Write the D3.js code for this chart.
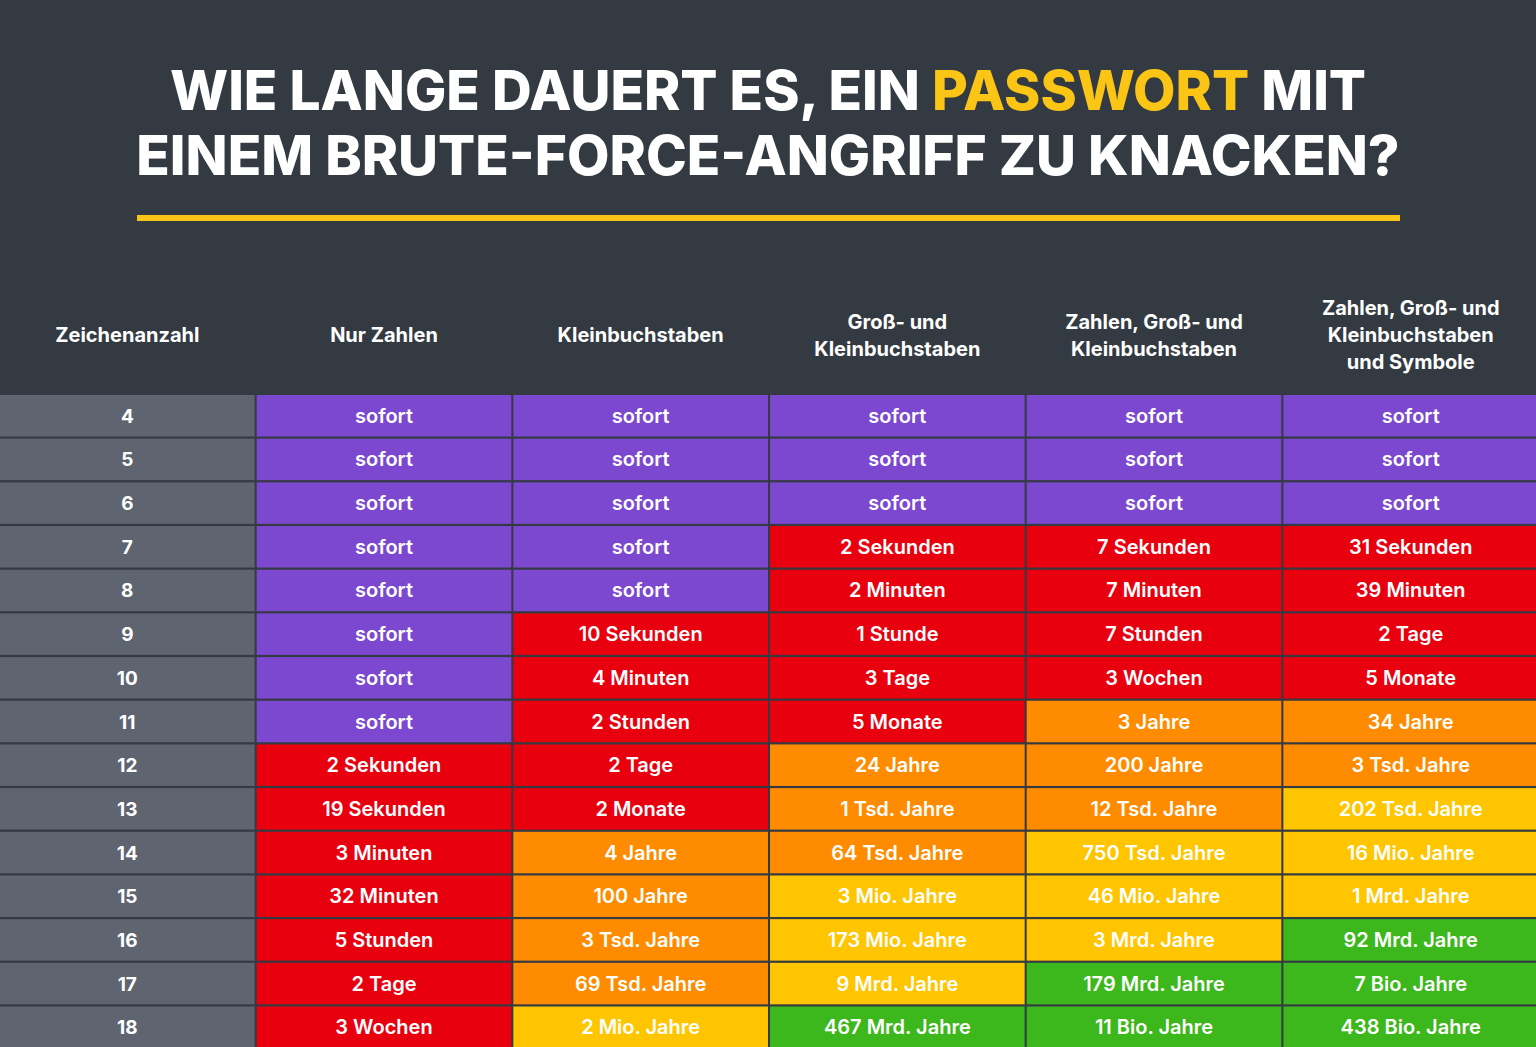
<!DOCTYPE html>
<html><head><meta charset="utf-8">
<script src="https://cdn.jsdelivr.net/npm/d3@7"></script>
<style>html,body{margin:0;padding:0;background:#343a42;overflow:hidden}</style>
</head><body><svg id="c" width="1536" height="1047"></svg>
<script>
const headers = [["Zeichenanzahl"],["Nur Zahlen"],["Kleinbuchstaben"],["Groß- und","Kleinbuchstaben"],["Zahlen, Groß- und","Kleinbuchstaben"],["Zahlen, Groß- und","Kleinbuchstaben","und Symbole"]];
const lengths = [4,5,6,7,8,9,10,11,12,13,14,15,16,17,18];
const nurZahlen = ["sofort","sofort","sofort","sofort","sofort","sofort","sofort","sofort","2 Sekunden","19 Sekunden","3 Minuten","32 Minuten","5 Stunden","2 Tage","3 Wochen"];
const klein = ["sofort","sofort","sofort","sofort","sofort","10 Sekunden","4 Minuten","2 Stunden","2 Tage","2 Monate","4 Jahre","100 Jahre","3 Tsd. Jahre","69 Tsd. Jahre","2 Mio. Jahre"];
const grossKlein = ["sofort","sofort","sofort","2 Sekunden","2 Minuten","1 Stunde","3 Tage","5 Monate","24 Jahre","1 Tsd. Jahre","64 Tsd. Jahre","3 Mio. Jahre","173 Mio. Jahre","9 Mrd. Jahre","467 Mrd. Jahre"];
const zahlenGrossKlein = ["sofort","sofort","sofort","7 Sekunden","7 Minuten","7 Stunden","3 Wochen","3 Jahre","200 Jahre","12 Tsd. Jahre","750 Tsd. Jahre","46 Mio. Jahre","3 Mrd. Jahre","179 Mrd. Jahre","11 Bio. Jahre"];
const alle = ["sofort","sofort","sofort","31 Sekunden","39 Minuten","2 Tage","5 Monate","34 Jahre","3 Tsd. Jahre","202 Tsd. Jahre","16 Mio. Jahre","1 Mrd. Jahre","92 Mrd. Jahre","7 Bio. Jahre","438 Bio. Jahre"];
// level per cell: 0 sofort, 1 red, 2 orange, 3 yellow, 4 green
const lvNurZahlen = [0,0,0,0,0,0,0,0,1,1,1,1,1,1,1];
const lvKlein = [0,0,0,0,0,1,1,1,1,1,2,2,2,2,3];
const lvGrossKlein = [0,0,0,1,1,1,1,1,2,2,2,3,3,3,4];
const lvZahlenGrossKlein = [0,0,0,1,1,1,1,2,2,2,3,3,3,4,4];
const lvAlle = [0,0,0,1,1,1,1,2,2,3,3,3,4,4,4];

const series=[nurZahlen,klein,grossKlein,zahlenGrossKlein,alle];
const levels=[lvNurZahlen,lvKlein,lvGrossKlein,lvZahlenGrossKlein,lvAlle];
const color=d3.scaleOrdinal().domain([0,1,2,3,4]).range(["#7b48cf","#e8000f","#ff8c00","#ffc600","#3cb71c"]);
const svg=d3.select("#c");
const F="Inter, 'Open Sans', sans-serif";
const x=d3.scaleBand().domain(d3.range(6)).range([0,1538]).paddingInner(0.008);
const y=d3.scaleBand().domain(d3.range(lengths.length)).range([395,1048]).paddingInner(0.05);

const t=svg.append("text").attr("x",768).attr("y",110).attr("text-anchor","middle").attr("font-family",F).attr("font-weight",800).attr("font-size",55).attr("fill","#fff");
t.append("tspan").text("WIE LANGE DAUERT ES, EIN ");
t.append("tspan").attr("fill","#fac515").text("PASSWORT");
t.append("tspan").text(" MIT");
svg.append("text").attr("x",768).attr("y",175).attr("text-anchor","middle").attr("font-family",F).attr("font-weight",800).attr("font-size",55).attr("fill","#fff").text("EINEM BRUTE-FORCE-ANGRIFF ZU KNACKEN?");
svg.append("rect").attr("x",137).attr("y",215).attr("width",1263).attr("height",6).attr("fill","#fac515");

headers.forEach((h,i)=>{
  const cx=x(i)+x.bandwidth()/2, lh=27, y0=342-(h.length-1)*lh/2;
  h.forEach((l,j)=>svg.append("text").attr("x",cx).attr("y",y0+j*lh).attr("text-anchor","middle").attr("font-family",F).attr("font-weight",700).attr("font-size",20).attr("fill","#fff").text(l));
});
lengths.forEach((n,r)=>{
  svg.append("rect").attr("x",x(0)).attr("y",y(r)).attr("width",x.bandwidth()).attr("height",y.bandwidth()).attr("fill","#5e6470");
  svg.append("text").attr("x",x(0)+x.bandwidth()/2).attr("y",y(r)+y.bandwidth()/2+7).attr("text-anchor","middle").attr("font-family",F).attr("font-weight",700).attr("font-size",19).attr("fill","#fff").text(n);
  series.forEach((s,c)=>{
    svg.append("rect").attr("x",x(c+1)).attr("y",y(r)).attr("width",x.bandwidth()).attr("height",y.bandwidth()).attr("fill",color(levels[c][r]));
    svg.append("text").attr("x",x(c+1)+x.bandwidth()/2).attr("y",y(r)+y.bandwidth()/2+7).attr("text-anchor","middle").attr("font-family",F).attr("font-weight",600).attr("font-size",20).attr("fill","#fff").text(s[r]);
  });
});
</script></body></html>
